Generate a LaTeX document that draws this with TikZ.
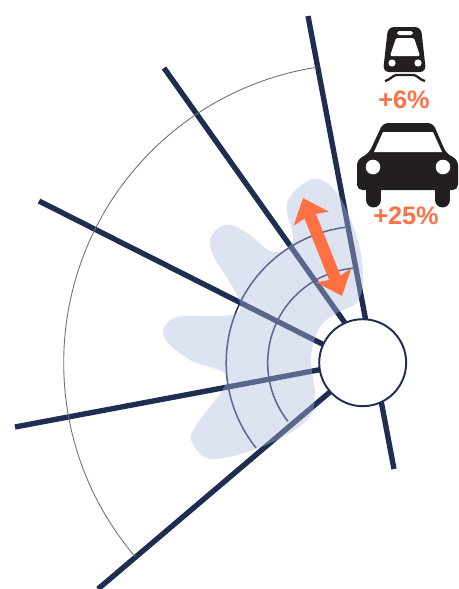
\documentclass[tikz,border=0pt]{standalone}
\usepackage{fontspec}
\setmainfont{Liberation Sans}
\usepackage{tikz}
\usetikzlibrary{arrows.meta, positioning, calc}
\definecolor{roadnavy}{HTML}{1F2D50}
\definecolor{blobblue}{HTML}{AFBBDE}
\definecolor{ringgray}{HTML}{6B7080}
\definecolor{deltaorange}{HTML}{FF7043}
\definecolor{iconblack}{HTML}{231F20}
\tikzset{
  road/.style={draw=roadnavy, line width=3.05pt},
  ring/.style={draw=roadnavy, line width=0.85pt},
  pct/.style={font=\bfseries\fontsize{14.4}{14.4}\selectfont, text=deltaorange, inner sep=0pt},
  wheel/.style={draw=iconblack, line width=8.5pt, line cap=round},
}

\begin{document}
\begin{tikzpicture}[x=0.02cm, y=-0.02cm]
  \useasboundingbox (0,0) rectangle (458,589);
  \coordinate (hubc) at (362.7,362.7);
  % spokes
  \draw[road] (308,16) -- (394,469);
  \draw[road] (164,68) -- (350,330);
  \draw[road] (39,201) -- (350,358);
  \draw[road] (15,427) -- (350,364);
  \draw[road] (98,589) -- (350,375);
  % rings
  \draw[ringgray, line width=0.5pt] (hubc) ++(139.6:299) arc[start angle=139.6, end angle=261.1, radius=299];
  \draw[ring] (hubc) ++(141.4:136.5) arc[start angle=141.4, end angle=262.6, radius=136.5];
  \draw[ring] (hubc) ++(142:95) arc[start angle=142, end angle=264.2, radius=95];
  % catchment
  \fill[blobblue, opacity=0.41] plot[smooth cycle, tension=0.6] coordinates {
    (313,179) (337,193) (357,237) (363,277) (357,302) (337,313) (320,327) (311,357)
    (315,397) (307,420) (277,440) (237,455) (207,458) (191,440) (197,424) (227,378)
    (190,360) (164,337) (177,317) (240,310) (210,247) (225,225) (247,233) (273,252)
    (293,240) (287,203)};
  % hub
  \node[circle, fill=white, draw=roadnavy, line width=1.1pt, minimum size=1.74cm, inner sep=0pt] (hub) at (hubc) {};
  % change arrow
  \coordinate (arrowtop) at (303,198);
  \coordinate (arrowbot) at (342,296);
  \draw[{Stealth[length=12.5pt, width=21pt, inset=2pt]}-{Stealth[length=12.5pt, width=21pt, inset=2pt]}, deltaorange, line width=7pt] (arrowtop) -- (arrowbot);
  % train
  \fill[iconblack, rounded corners=3.5pt] (388,27) -- (421,27) -- (426,72) -- (383,72) -- cycle;
  \fill[white, rounded corners=0.8pt] (396,38) -- (414,38) -- (420,56) -- (390,56) -- cycle;
  \fill[white, rounded corners=1pt] (397,31) rectangle (413,35);
  \fill[white] (392,63) circle[radius=3.6] (418,63) circle[radius=3.6];
  \draw[iconblack, line width=1.3pt] (385,81) .. controls (390,80) and (392,76) .. (396,75) -- (414,75) .. controls (418,76) and (420,80) .. (425,81);
  % car
  \fill[iconblack, rounded corners=3pt] (383,123) -- (433,123) -- (446,153) -- (458,160) -- (458,190) -- (357,190) -- (357,160) -- (369,153) -- cycle;
  \draw[wheel] (373.5,185) -- (373.5,200);
  \draw[wheel] (442.5,185) -- (442.5,200);
  \fill[white] (383,132) -- (433,132) -- (442,152) -- (374,152) -- cycle;
  \fill[white] (373,167) circle[radius=7.3] (443,167) circle[radius=7.3];
  % labels
  \node[pct] (pcttrain) at (404,100) {+6\%};
  \node[pct] (pctcar) at (406,216) {+25\%};
\end{tikzpicture}
\end{document}
